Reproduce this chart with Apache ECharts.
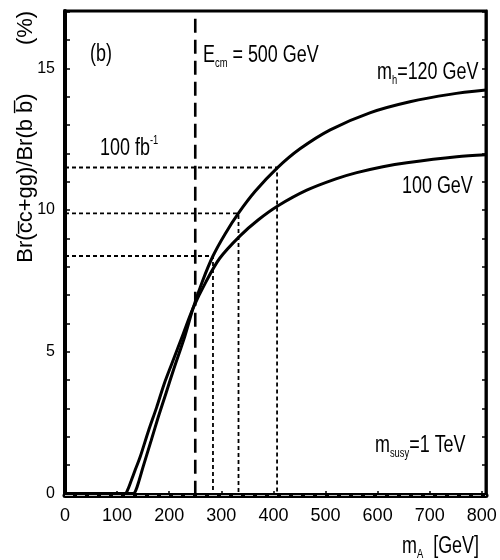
<!DOCTYPE html>
<html>
<head>
<meta charset="utf-8">
<script src="https://cdn.jsdelivr.net/npm/echarts@6/dist/echarts.min.js"></script>
<style>
html,body{margin:0;padding:0;background:#fff;}
#c{width:500px;height:560px;}
</style>
</head>
<body>
<div id="c"></div>
<script>
// ---- data ----
var mA120 = [0, 131, 136, 142, 150, 165, 179, 194, 208, 230, 246, 264, 284, 307, 333, 365, 407, 451, 509, 585, 662, 739, 808];
var br120 = [0, 0, 0.12, 0.45, 0.95, 1.85, 2.7, 3.55, 4.35, 5.55, 6.55, 7.5, 8.38, 9.15, 9.89, 10.66, 11.48, 12.16, 12.83, 13.43, 13.82, 14.08, 14.23];
var mA100 = [0, 115, 120, 127, 135, 144, 160, 176, 190, 205, 227, 246, 270, 297, 336, 370, 409, 464, 520, 560, 610, 656, 752, 808];
var br100 = [0, 0, 0.12, 0.45, 0.85, 1.28, 2.2, 3.05, 3.85, 4.58, 5.64, 6.55, 7.45, 8.3, 9.09, 9.64, 10.15, 10.70, 11.10, 11.32, 11.53, 11.67, 11.88, 11.95];
var levelBr = [11.5, 9.88, 8.38];     // 100 fb^-1 reach levels
var levelMA = [407, 333, 284];        // where they meet the curves
var ecmMA = 250;
var ecmTop = 16.75;
var xTicks = [0, 100, 200, 300, 400, 500, 600, 700, 800];
var yLabels = [0, 5, 10, 15];
var yTicks = [0, 1, 2, 3, 4, 5, 6, 7, 8, 9, 10, 11, 12, 13, 14, 15, 16, 17];

function zip(xs, ys) { return xs.map(function (x, i) { return [x, ys[i]]; }); }

var SANS = "'Liberation Sans',Arial,sans-serif";

var chart = echarts.init(document.getElementById('c'), null, {renderer: 'canvas'});

var series = [];
series.push({
  type: 'line', name: '120', data: zip(mA120, br120), showSymbol: false, smooth: 0.3,
  lineStyle: {color: '#000', width: 3}, z: 5
});
series.push({
  type: 'line', name: '100', data: zip(mA100, br100), showSymbol: false, smooth: 0.3,
  lineStyle: {color: '#000', width: 3}, z: 5
});
levelBr.forEach(function (b, i) {
  series.push({
    type: 'line', data: [[0, b], [levelMA[i], b], [levelMA[i], 0]], showSymbol: false,
    lineStyle: {color: '#000', width: 1.8, type: [4, 3]}, z: 3
  });
});
series.push({
  type: 'line', data: [[ecmMA, ecmTop], [ecmMA, 0]], showSymbol: false,
  lineStyle: {color: '#000', width: 2.6, type: [14, 7]}, z: 4
});
series.push({
  type: 'line', data: [[0, -0.07], [808, -0.07]], showSymbol: false,
  lineStyle: {color: '#fff', width: 1.3, type: [8, 4]}, z: 6
});

var rich = {
  t: {fontSize: 23, fontFamily: SANS, color: '#000', lineHeight: 28},
  s: {fontSize: 12, fontFamily: SANS, color: '#000', verticalAlign: 'bottom', lineHeight: 12},
  p: {fontSize: 12, fontFamily: SANS, color: '#000', verticalAlign: 'top', lineHeight: 12}
};
function txt(x, y, text) {
  return {type: 'text', x: x, y: y, z: 10, scaleX: 0.78,
    style: {text: text, rich: rich, fill: '#000', align: 'left', verticalAlign: 'middle', fontSize: 23, fontFamily: SANS}};
}

chart.setOption({
  animation: false,
  backgroundColor: '#fff',
  grid: {left: 65, right: 14, top: 11, bottom: 65, show: true, borderColor: '#000', borderWidth: 3, backgroundColor: 'transparent'},
  xAxis: {
    type: 'value', min: 0, max: 808,
    axisLine: {show: true, onZero: false, lineStyle: {color: '#000', width: 5}},
    axisTick: {show: true, inside: true, length: 4, customValues: xTicks, lineStyle: {color: '#000', width: 1.5}},
    axisLabel: {customValues: xTicks, margin: 12, fontSize: 18, fontFamily: SANS, color: '#000'},
    splitLine: {show: false}
  },
  yAxis: [{
    type: 'value', min: -0.05, max: 17.02, position: 'left',
    axisLine: {show: true, onZero: false, lineStyle: {color: '#000', width: 4}},
    axisTick: {show: true, inside: true, length: 5, customValues: yTicks, lineStyle: {color: '#000', width: 1.5}},
    axisLabel: {customValues: yLabels, margin: 10, fontSize: 16, fontFamily: SANS, color: '#000'},
    splitLine: {show: false}
  }, {
    type: 'value', min: -0.05, max: 17.02, position: 'right',
    axisLine: {show: true, onZero: false, lineStyle: {color: '#000', width: 2.5}},
    axisTick: {show: true, inside: true, length: 4, customValues: yTicks, lineStyle: {color: '#000', width: 1.5}},
    axisLabel: {show: false},
    splitLine: {show: false}
  }],
  series: series,
  graphic: [
    txt(90, 55, '{t|(b)}'),
    txt(203, 56, '{t|E}{s|cm}{t| = 500 GeV}'),
    txt(377, 73, '{t|m}{s|h}{t|=120 GeV}'),
    txt(100, 149, '{t|100 fb}{p|-1}'),
    txt(402, 187, '{t|100 GeV}'),
    txt(375, 446, '{t|m}{s|susy}{t|=1 TeV}'),
    txt(402, 547, '{t|m}{s|A}{t|  [GeV]}'),
    {type: 'text', x: 26, y: 178, rotation: Math.PI / 2, z: 10,
      style: {text: 'Br(c\u0305c+gg)/Br(b b\u0305)', fill: '#000', fontSize: 22, fontFamily: SANS, align: 'center', verticalAlign: 'middle'}},
    {type: 'text', x: 26, y: 28, rotation: Math.PI / 2, z: 10,
      style: {text: '(%)', fill: '#000', fontSize: 22, fontFamily: SANS, align: 'center', verticalAlign: 'middle'}}
  ]
});
</script>
</body>
</html>
